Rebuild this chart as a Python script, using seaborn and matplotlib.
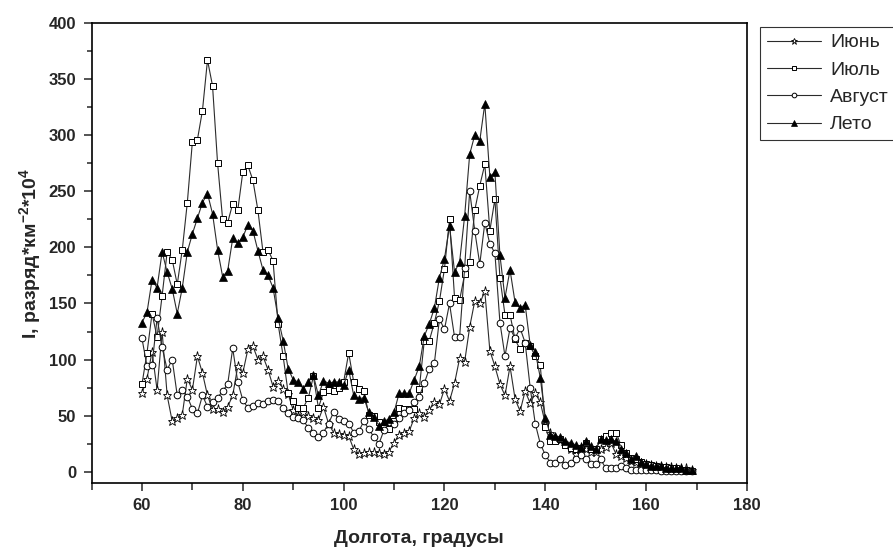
import numpy as np
import pandas as pd
import matplotlib
matplotlib.use('Agg')
import matplotlib.pyplot as plt
import seaborn as sns
from matplotlib.ticker import MultipleLocator

# longitude, degrees (1 degree step)
lon = list(range(60, 170))

june = [70, 83, 107, 73, 125, 68, 45, 48, 51, 83,
        73, 103, 88, 68, 56, 56, 53, 58, 68, 94,
        88, 109, 112, 100, 103, 91, 76, 81, 74, 69,
        55, 50, 53, 50, 48, 46, 58, 43, 35, 34,
        33, 32, 20, 16, 17, 18, 18, 17, 16, 18,
        26, 33, 35, 36, 48, 52, 49, 55, 62, 60,
        74, 63, 79, 101, 98, 129, 152, 150, 161, 108,
        94, 78, 68, 94, 65, 54, 72, 61, 70, 62,
        43, 35, 30, 28, 25, 20, 16, 22, 20, 18,
        18, 20, 22, 26, 16, 14, 12, 10, 9, 8,
        7, 6, 5, 5, 4, 4, 3, 3, 3, 2]

july = [78, 106, 141, 120, 157, 196, 189, 167, 198, 240,
        294, 296, 322, 367, 344, 275, 225, 222, 239, 233,
        267, 273, 260, 233, 196, 198, 188, 132, 103, 70,
        63, 57, 57, 66, 85, 57, 71, 73, 72, 75,
        80, 106, 80, 74, 72, 51, 50, 44, 39, 38,
        45, 57, 56, 56, 56, 74, 117, 117, 133, 152,
        181, 225, 155, 153, 176, 187, 233, 255, 274, 215,
        243, 173, 140, 140, 118, 109, 115, 112, 103, 95,
        40, 27, 27, 29, 24, 21, 20, 21, 26, 20,
        20, 29, 32, 35, 35, 24, 17, 12, 11, 9,
        7, 6, 5, 4, 4, 3, 3, 2, 2, 1]

august = [119, 94, 95, 137, 111, 91, 100, 68, 73, 67,
          56, 52, 68, 58, 62, 66, 72, 78, 110, 80,
          64, 57, 59, 61, 60, 63, 64, 63, 57, 52,
          49, 48, 46, 39, 35, 31, 35, 43, 53, 47,
          45, 43, 35, 36, 45, 38, 31, 25, 37, 44,
          43, 48, 52, 55, 62, 67, 79, 92, 97, 136,
          127, 150, 120, 120, 182, 250, 215, 185, 222, 203,
          195, 133, 103, 128, 119, 128, 115, 75, 43, 25,
          15, 8, 8, 11, 6, 8, 11, 15, 11, 7,
          7, 11, 3, 3, 3, 5, 3, 2, 2, 2,
          2, 2, 2, 1, 1, 1, 1, 1, 1, 1]

summer = [133, 142, 171, 164, 196, 178, 163, 141, 164, 196,
          212, 226, 240, 248, 230, 198, 174, 179, 208, 204,
          209, 220, 215, 197, 180, 175, 164, 137, 117, 92,
          82, 80, 74, 80, 86, 68, 81, 79, 80, 80,
          77, 91, 68, 65, 66, 53, 49, 41, 45, 47,
          53, 70, 70, 70, 82, 94, 121, 132, 146, 173,
          190, 219, 178, 187, 228, 283, 300, 295, 328, 263,
          267, 193, 155, 180, 151, 146, 149, 113, 107, 84,
          48, 33, 32, 31, 27, 26, 24, 22, 27, 23,
          20, 29, 28, 29, 27, 20, 17, 11, 14, 9,
          7, 5, 5, 5, 3, 3, 3, 3, 2, 2]

labels = ['Июнь', 'Июль', 'Август', 'Лето']

sns.set_style('ticks')
plt.rcParams['font.family'] = ['Liberation Sans', 'DejaVu Sans']
plt.rcParams['mathtext.fontset'] = 'custom'
plt.rcParams['mathtext.bf'] = 'Liberation Sans:bold'
plt.rcParams['mathtext.rm'] = 'Liberation Sans:bold'
plt.rcParams['mathtext.default'] = 'bf'

fig = plt.figure(figsize=(8.93, 5.53), dpi=100)
ax = fig.add_axes([0.1025, 0.1266, 0.734, 0.8318])

# marker styles per series
styles = [
    dict(marker='*', markersize=6.5, markerfacecolor='white', markeredgecolor='black', markeredgewidth=0.6),
    dict(marker='s', markersize=4.5, markerfacecolor='white', markeredgecolor='black', markeredgewidth=0.7),
    dict(marker='o', markersize=4.8, markerfacecolor='white', markeredgecolor='black', markeredgewidth=0.7),
    dict(marker='^', markersize=5.5, markerfacecolor='black', markeredgecolor='black', markeredgewidth=0.5),
]

for vals, lab, st in zip([june, july, august, summer], labels, styles):
    df = pd.DataFrame({'lon': lon, 'val': vals})
    sns.lineplot(data=df, x='lon', y='val', ax=ax, color='#2b2b2b', linewidth=0.8,
                 label=lab, **st)

ax.set_xlim(50, 180)
ax.set_ylim(-10, 400)
ax.xaxis.set_major_locator(MultipleLocator(20))
ax.xaxis.set_minor_locator(MultipleLocator(10))
ax.yaxis.set_major_locator(MultipleLocator(50))
ax.yaxis.set_minor_locator(MultipleLocator(25))
ax.tick_params(axis='both', which='major', direction='out', length=6, width=1.1,
               labelsize=12, top=False, right=False, pad=5)
ax.tick_params(axis='x', which='minor', direction='out', length=5, width=1.1, top=False)
ax.tick_params(axis='y', which='minor', direction='out', length=3.5, width=1.1, right=False)
for lbl in ax.get_xticklabels() + ax.get_yticklabels():
    lbl.set_fontweight('bold')
for sp in ax.spines.values():
    sp.set_visible(True)
    sp.set_linewidth(1.2)
    sp.set_color('black')

ax.set_xlabel('Долгота, градусы', fontsize=14, fontweight='bold', labelpad=12)
ax.set_ylabel('I, разряд*км$^{-2}$*10$^{4}$', fontsize=14, fontweight='bold', labelpad=4)

ax.get_legend().remove()
handles, labs = ax.get_legend_handles_labels()
leg = fig.legend(handles, labs, loc='upper left', bbox_to_anchor=(760 / 893, 1 - 27 / 553),
                 borderaxespad=0, frameon=True, fancybox=False, edgecolor='black',
                 fontsize=14, handlelength=2.8, handletextpad=0.45, labelspacing=0.5,
                 borderpad=0.35, markerscale=0.7)
leg.get_frame().set_linewidth(0.8)

fig.savefig('out.png', dpi=100)
